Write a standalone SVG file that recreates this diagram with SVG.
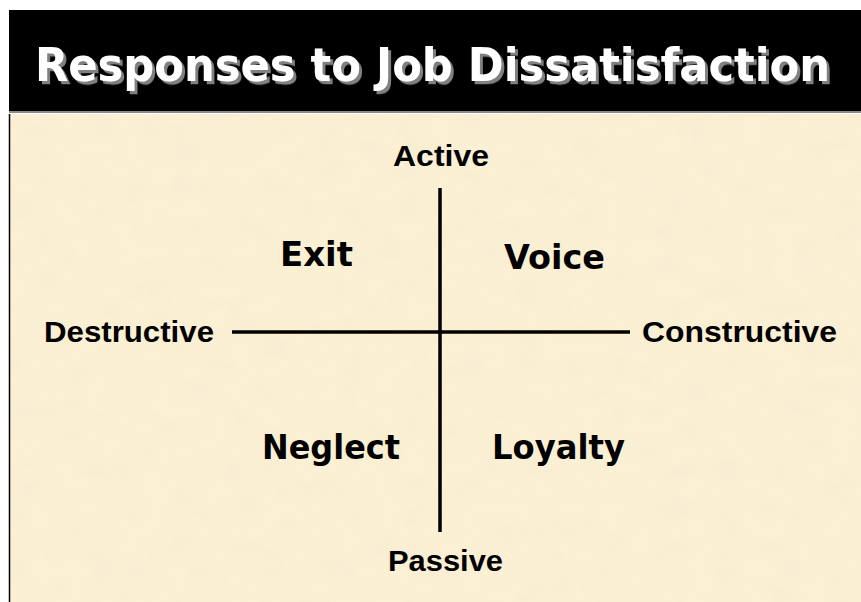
<svg xmlns="http://www.w3.org/2000/svg" width="861" height="602" viewBox="0 0 861 602">
  <defs>
    <style>
      .title { font-family: "DejaVu Sans", "Noto Sans", sans-serif; font-weight: bold; font-size: 43px; fill: #fff; }
      .quad { font-family: "DejaVu Sans", "Noto Sans", sans-serif; font-weight: bold; font-size: 34px; fill: #000; }
      .axis { font-family: "Liberation Sans", Arial, sans-serif; font-weight: bold; font-size: 29px; fill: #000; }
      .rule { stroke: #000; stroke-width: 3.5; fill: none; }
    </style>
    <!-- grey offset shadow behind the heading -->
    <filter id="shadow" x="-5%" y="-30%" width="110%" height="160%">
      <feDropShadow dx="3" dy="3" stdDeviation="0.4" flood-color="#808080" flood-opacity="1"/>
    </filter>
    <!-- parchment mottling -->
    <filter id="paper" x="0" y="0" width="100%" height="100%">
      <feTurbulence type="fractalNoise" baseFrequency="0.035 0.05" numOctaves="3" seed="7" result="noise"/>
      <feColorMatrix in="noise" type="matrix"
        values="0 0 0 0 0.92
                0 0 0 0 0.84
                0 0 0 0 0.64
                0 0 0 1.5 -0.6" result="spots"/>
      <feComposite in="spots" in2="SourceGraphic" operator="in"/>
    </filter>
  </defs>

  <!-- page -->
  <rect x="0" y="0" width="861" height="602" fill="#fff"/>

  <!-- header bar -->
  <rect x="9" y="10" width="852" height="101" fill="#000"/>
  <rect x="9" y="111" width="852" height="2" fill="#8a8a8a"/>

  <!-- body -->
  <rect x="9" y="114" width="852" height="488" fill="#fbf0d4"/>
  <rect x="9" y="114" width="852" height="488" fill="#fbf0d4" filter="url(#paper)" opacity="0.8"/>
  <line x1="9.5" y1="114" x2="9.5" y2="602" stroke="#000" stroke-width="1.5"/>

  <!-- title -->
  <g id="title" transform="translate(35 81) scale(1 1.08)">
    <text class="title" x="0" y="0" filter="url(#shadow)" textLength="795" lengthAdjust="spacingAndGlyphs">Responses to Job Dissatisfaction</text>
  </g>

  <!-- axes -->
  <g id="connectors">
    <line class="rule" x1="440" y1="188" x2="440" y2="532"/>
    <line class="rule" x1="232" y1="332" x2="630" y2="332"/>
  </g>

  <!-- axis labels -->
  <g id="active"><text class="axis" x="393" y="166" textLength="96" lengthAdjust="spacingAndGlyphs">Active</text></g>
  <g id="passive"><text class="axis" x="388" y="571" textLength="115" lengthAdjust="spacingAndGlyphs">Passive</text></g>
  <g id="destructive"><text class="axis" x="44" y="342" textLength="170" lengthAdjust="spacingAndGlyphs">Destructive</text></g>
  <g id="constructive"><text class="axis" x="642" y="342" textLength="195" lengthAdjust="spacingAndGlyphs">Constructive</text></g>

  <!-- quadrants -->
  <g id="exit"><text class="quad" x="280" y="266" textLength="73" lengthAdjust="spacingAndGlyphs">Exit</text></g>
  <g id="voice"><text class="quad" x="504" y="269" textLength="101" lengthAdjust="spacingAndGlyphs">Voice</text></g>
  <g id="neglect"><text class="quad" x="262" y="459" textLength="138" lengthAdjust="spacingAndGlyphs">Neglect</text></g>
  <g id="loyalty"><text class="quad" x="492" y="459" textLength="133" lengthAdjust="spacingAndGlyphs">Loyalty</text></g>
</svg>
